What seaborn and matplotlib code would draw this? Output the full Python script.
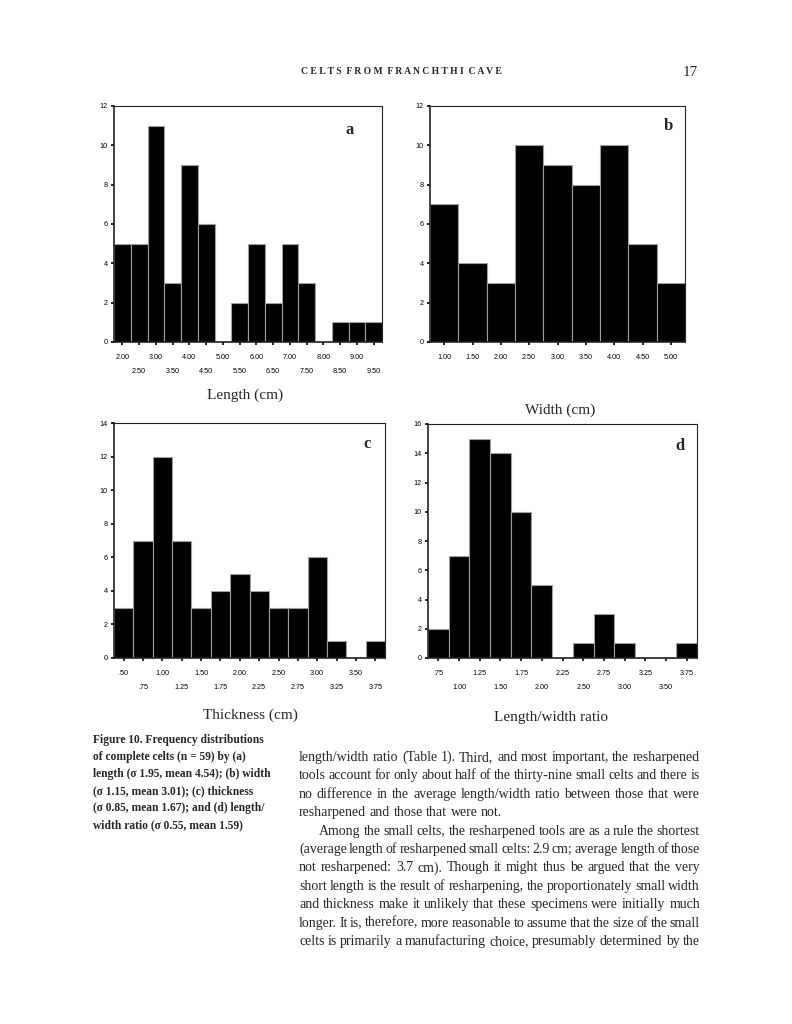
import numpy as np
import pandas as pd
import seaborn as sns
import matplotlib.pyplot as plt

# --------------
# data (counts per bin, n = 59 each)

length_centers = [2.0, 2.5, 3.0, 3.5, 4.0, 4.5, 5.0, 5.5, 6.0, 6.5, 7.0, 7.5, 8.0, 8.5, 9.0, 9.5]
length_counts = [5, 5, 11, 3, 9, 6, 0, 2, 5, 2, 5, 3, 0, 1, 1, 1]
length_row1 = ['2.00', '3.00', '4.00', '5.00', '6.00', '7.00', '8.00', '9.00']
length_row2 = ['2.50', '3.50', '4.50', '5.50', '6.50', '7.50', '8.50', '9.50']

width_centers = [1.0, 1.5, 2.0, 2.5, 3.0, 3.5, 4.0, 4.5, 5.0]
width_counts = [7, 4, 3, 10, 9, 8, 10, 5, 3]
width_row1 = ['1.00', '1.50', '2.00', '2.50', '3.00', '3.50', '4.00', '4.50', '5.00']

thick_centers = [0.5, 0.75, 1.0, 1.25, 1.5, 1.75, 2.0, 2.25, 2.5, 2.75, 3.0, 3.25, 3.5, 3.75]
thick_counts = [3, 7, 12, 7, 3, 4, 5, 4, 3, 3, 6, 1, 0, 1]
thick_row1 = ['.50', '1.00', '1.50', '2.00', '2.50', '3.00', '3.50']
thick_row2 = ['.75', '1.25', '1.75', '2.25', '2.75', '3.25', '3.75']

ratio_centers = [0.75, 1.0, 1.25, 1.5, 1.75, 2.0, 2.25, 2.5, 2.75, 3.0, 3.25, 3.5, 3.75]
ratio_counts = [2, 7, 15, 14, 10, 5, 0, 1, 3, 1, 0, 0, 1]
ratio_row1 = ['.75', '1.25', '1.75', '2.25', '2.75', '3.25', '3.75']
ratio_row2 = ['1.00', '1.50', '2.00', '2.50', '3.00', '3.50']

caption_lines = [
    'Figure 10. Frequency distributions',
    'of complete celts (n = 59) by (a)',
    'length (\u03c3 1.95, mean 4.54); (b) width',
    '(\u03c3 1.15, mean 3.01); (c) thickness',
    '(\u03c3 0.85, mean 1.67); and (d) length/',
    'width ratio (\u03c3 0.55, mean 1.59)',
]

body_lines = [
    'length/width ratio (Table 1). Third, and most important, the resharpened',
    'tools account for only about half of the thirty-nine small celts and there is',
    'no difference in the average length/width ratio between those that were',
    'resharpened and those that were not.',
    'Among the small celts, the resharpened tools are as a rule the shortest',
    '(average length of resharpened small celts: 2.9 cm; average length of those',
    'not resharpened: 3.7 cm). Though it might thus be argued that the very',
    'short length is the result of resharpening, the proportionately small width',
    'and thickness make it unlikely that these specimens were initially much',
    'longer. It is, therefore, more reasonable to assume that the size of the small',
    'celts is primarily a manufacturing choice, presumably determined by the',
]

# --------------
sns.set_style('ticks')
plt.rcParams['font.family'] = ['Liberation Serif', 'DejaVu Serif']

W, H = 792, 1024
fig = plt.figure(figsize=(W / 100, H / 100), dpi=100)


def px(x, y):
    return x / W, 1 - y / H


def frame(left, top, right, bottom):
    return [left / W, 1 - bottom / H, (right - left) / W, (bottom - top) / H]


def hist_panel(rect, centers, counts, step, ymax, row1, row2, letter, letter_xy):
    ax = fig.add_axes(rect)
    df = pd.DataFrame({'value': centers, 'count': counts})
    c = df['value'].to_numpy()
    lo, hi = float(c[0] - step / 2), float(c[-1] + step / 2)
    sns.histplot(data=df, x='value', weights='count', binwidth=step, binrange=(lo, hi),
                 ax=ax, color='black', edgecolor='#a0a0a0', linewidth=0.8, alpha=1)
    ax.set_xlim(lo, hi)
    ax.set_ylim(0, ymax)
    ax.set_ylabel('')
    ax.set_xlabel('')
    ax.set_yticks(range(0, ymax + 1, 2))
    ax.set_yticklabels([str(v) for v in range(0, ymax + 1, 2)])
    ax.set_xticks(c[::2] if row2 else c)
    ax.set_xticklabels(row1)
    if row2:
        ax.set_xticks(c[1::2], minor=True)
        ax.set_xticklabels(row2, minor=True)
    ax.tick_params(axis='both', which='both', direction='out', length=2.5, width=1.2,
                   labelsize=5.2, colors='black')
    ax.tick_params(axis='x', which='major', pad=6)
    ax.tick_params(axis='x', which='minor', pad=16)
    ax.tick_params(axis='y', pad=2)
    for lab in ax.get_xticklabels(which='both') + ax.get_yticklabels():
        lab.set_family(['Liberation Sans', 'DejaVu Sans'])
    for sp in ax.spines.values():
        sp.set_visible(True)
        sp.set_linewidth(0.8)
        sp.set_color('#222222')
    ax.spines['left'].set_linewidth(1.2)
    ax.spines['bottom'].set_linewidth(1.2)
    fig.text(*px(*letter_xy), letter, fontsize=12, ha='center', va='center', weight='bold')
    return ax


hist_panel(frame(114, 106, 382, 342), length_centers, length_counts, 0.5, 12,
           length_row1, length_row2, 'a', (350, 130))
hist_panel(frame(430, 106, 685, 342), width_centers, width_counts, 0.5, 12,
           width_row1, None, 'b', (668, 126))
hist_panel(frame(114, 423, 385, 658), thick_centers, thick_counts, 0.25, 14,
           thick_row1, thick_row2, 'c', (367, 444))
hist_panel(frame(428, 424, 697, 658), ratio_centers, ratio_counts, 0.25, 16,
           ratio_row1, ratio_row2, 'd', (680, 446))

fig.text(*px(245, 395), 'Length (cm)', fontsize=11, ha='center', va='center')
fig.text(*px(560, 410), 'Width (cm)', fontsize=11, ha='center', va='center')
fig.text(*px(250, 715), 'Thickness (cm)', fontsize=11, ha='center', va='center')
fig.text(*px(551, 718), 'Length/width ratio', fontsize=11, ha='center', va='center')

# running head
fig.text(*px(301, 72), '  '.join(' '.join(w) for w in 'CELTS FROM FRANCHTHI CAVE'.split()),
         fontsize=6.9, ha='left', va='center', weight='bold')
fig.text(*px(698, 72), '17', fontsize=11, ha='right', va='center')

# caption
for i, line in enumerate(caption_lines):
    fig.text(*px(93, 740 + i * 17), line, fontsize=8.3, ha='left', va='center', weight='bold')

# body text, justified
renderer = fig.canvas.get_renderer()


def put_line(line, x0, x1, y, size, justify):
    words = line.split()
    widths = []
    for w in words:
        t = fig.text(0, 0, w, fontsize=size)
        widths.append(t.get_window_extent(renderer).width)
        t.remove()
    if justify and len(words) > 1:
        gap = (x1 - x0 - sum(widths)) / (len(words) - 1)
    else:
        gap = 3.5
    x = x0
    for w, wd in zip(words, widths):
        fig.text(*px(x, y + 4), w, fontsize=size, ha='left', va='baseline')
        x += wd + gap


for i, line in enumerate(body_lines):
    indent = 20 if i == 4 else 0
    put_line(line, 299 + indent, 700, 757 + i * 18.4, 10.0, i != 3)

fig.savefig('out.png', dpi=100)
